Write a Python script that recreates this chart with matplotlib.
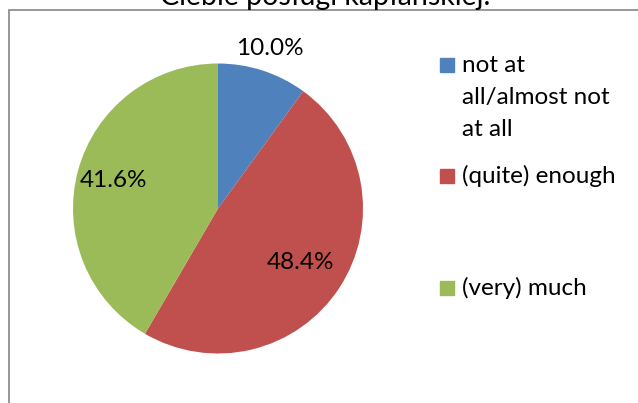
import matplotlib.pyplot as plt
import numpy as np
from matplotlib.patches import Rectangle

categories = ['not at\nall/almost not\nat all', '(quite) enough', '(very) much']
shares = [10.0, 48.4, 41.6]
colors = ['#4F81BD', '#C0504D', '#9BBB59']
title = 'Ciebie posługi kapłańskiej.'

plt.rcParams['font.family'] = ['Lato', 'DejaVu Sans']

W, H = 638, 403
fig = plt.figure(figsize=(W / 100, H / 100), dpi=100)

# frame of the chart area (right/bottom edges fall outside the image)
fig.patches.append(Rectangle((9 / W, -0.1), 1.2, 1 - 10 / H + 0.1,
                             transform=fig.transFigure, fill=False,
                             edgecolor='#868686', lw=1.2))
# title is mostly cropped away in the original
fig.text(325 / W, 1 - 5 / H, title, ha='center', va='baseline', fontsize=20.5)

ax = fig.add_axes([73 / W, 49.5 / H, 290 / W, 290 / H])
wedges, texts, autotexts = ax.pie(shares, colors=colors, startangle=90,
                                  counterclock=False, autopct='%.1f%%',
                                  pctdistance=0.7, radius=1,
                                  textprops={'fontsize': 17.5})
ax.set_xlim(-1, 1)
ax.set_ylim(-1, 1)
ax.set_aspect('equal')

# nudge percentage labels to their spots in the original
dists = [1.16, 0.68, 0.75]
for w, t, d in zip(wedges, autotexts, dists):
    ang = np.deg2rad((w.theta1 + w.theta2) / 2)
    t.set_position((d * np.cos(ang), d * np.sin(ang)))

# legend drawn by hand to keep the wide Excel-style spacing
leg_base = [72, 183, 295]
for lab, c, yb in zip(categories, colors, leg_base):
    fig.patches.append(Rectangle((440 / W, 1 - yb / H), 14 / W, 14 / H,
                                 transform=fig.transFigure, color=c))
    for i, line in enumerate(lab.split('\n')):
        fig.text(462 / W, 1 - (yb + 32 * i) / H, line, ha='left',
                 va='baseline', fontsize=17.5)

fig.savefig('out.png', dpi=100)
